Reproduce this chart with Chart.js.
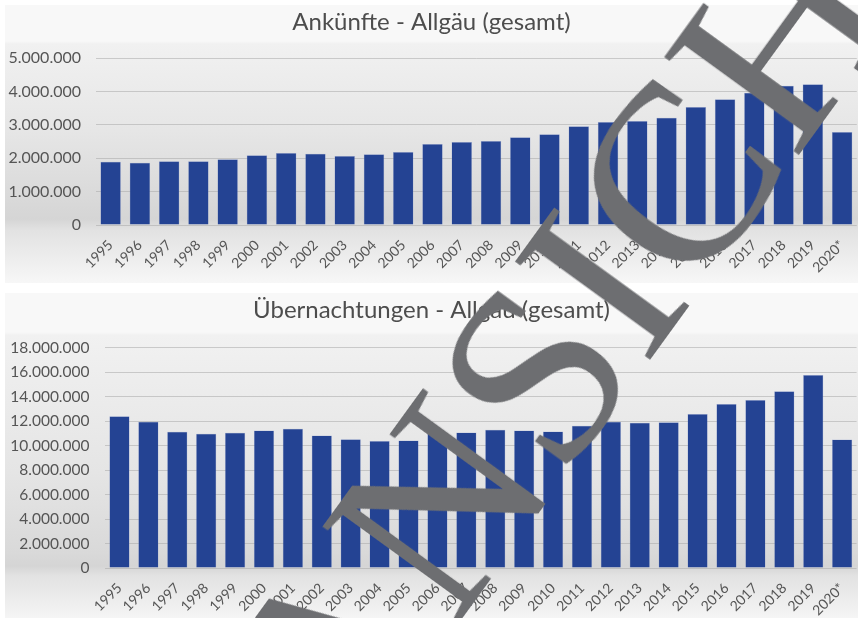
<!DOCTYPE html>
<html>
<head>
<meta charset="utf-8">
<script src="https://cdn.jsdelivr.net/npm/chart.js@4.4.0/dist/chart.umd.min.js"></script>
<style>
  body { margin: 0; background: #fff; width: 858px; height: 618px; overflow: hidden; position: relative; }
  .box { position: absolute; left: 5px; width: 853px; }
  #box1 { top: 5px; height: 278px;
    background: linear-gradient(to bottom, #f8f8f8 0%, #f8f8f8 13%, #f1f1f1 14%, #e6e6e6 45%, #d9d9d9 70%, #d5d5d5 77%, #e2e2e2 81%, #f7f7f7 100%); }
  #box2 { top: 293px; height: 325px;
    background: linear-gradient(to bottom, #f8f8f8 0%, #f8f8f8 12%, #f1f1f1 13%, #e5e5e5 55%, #d9d9d9 80%, #d5d5d5 84%, #e2e2e2 87%, #f5f5f5 100%); }
  #mark { position: absolute; left: 0; top: 0; font-family: "Liberation Serif", serif; font-size: 255px;
    line-height: 1; color: #6d6e71; white-space: nowrap; pointer-events: none; }
</style>
</head>
<body>
<div class="box" id="box1"><canvas id="arrivalsChart"></canvas></div>
<div class="box" id="box2"><canvas id="overnightsChart"></canvas></div>
<div id="mark">ANSICHT</div>
<script>
const years = ['1995', '1996', '1997', '1998', '1999', '2000', '2001', '2002', '2003', '2004', '2005', '2006', '2007',
    '2008', '2009', '2010', '2011', '2012', '2013', '2014', '2015', '2016', '2017', '2018', '2019', '2020*'];
const arrivals = [1900000, 1870000, 1910000, 1910000, 1970000, 2090000, 2160000, 2140000, 2070000, 2120000, 2190000,
    2430000, 2490000, 2520000, 2630000, 2720000, 2960000, 3090000, 3120000, 3220000, 3540000, 3770000, 3970000,
    4180000, 4220000, 2790000];
const overnights = [12410000, 11950000, 11130000, 10970000, 11050000, 11240000, 11380000, 10830000, 10530000,
    10390000, 10420000, 11000000, 11080000, 11300000, 11240000, 11160000, 11620000, 11950000, 11870000, 11920000,
    12580000, 13400000, 13730000, 14440000, 15770000, 10510000];
const arrivalsTicks = { max: 5000000, step: 1000000 };
const overnightsTicks = { max: 18000000, step: 2000000 };

const fmt = v => String(v).replace(/\B(?=(\d{3})+(?!\d))/g, '.');

function barChart(id, title, values, ticks, s) {
    return new Chart(document.getElementById(id), {
        type: 'bar',
        data: {
            labels: years,
            datasets: [{
                label: title,
                data: values,
                backgroundColor: '#244393',
                borderColor: 'rgba(120,140,200,0.6)',
                borderWidth: 0.5,
                barPercentage: 0.7,
                categoryPercentage: 1
            }]
        },
        options: {
            responsive: true,
            maintainAspectRatio: false,
            animation: false,
            layout: { padding: 0 },
            plugins: {
                legend: { display: false },
                tooltip: { enabled: false },
                title: {
                    display: true,
                    text: title,
                    color: '#4d4d4d',
                    font: { family: 'Lato', size: 24, weight: 'normal' },
                    padding: { top: 3, bottom: s.titleGap }
                }
            },
            scales: {
                x: {
                    grid: { display: false },
                    border: { display: false },
                    ticks: {
                        color: '#555',
                        font: { family: 'Lato', size: 14 },
                        minRotation: 45,
                        maxRotation: 45,
                        autoSkip: false,
                        padding: 4
                    },
                    afterFit: sc => { sc.height = s.xHeight; }
                },
                y: {
                    min: 0,
                    max: ticks.max,
                    grid: { color: 'rgba(170,170,170,0.55)', drawTicks: false },
                    border: { display: false },
                    ticks: {
                        stepSize: ticks.step,
                        color: '#555',
                        font: { family: 'Lato', size: s.yFont },
                        padding: s.yPad,
                        callback: v => fmt(v)
                    },
                    afterFit: sc => { sc.width = s.yWidth; }
                }
            }
        }
    });
}

barChart('arrivalsChart', 'Ankünfte - Allgäu (gesamt)', arrivals, arrivalsTicks,
    { titleGap: 21.5, xHeight: 58, yWidth: 91, yFont: 16, yPad: 15 });
barChart('overnightsChart', 'Übernachtungen - Allgäu (gesamt)', overnights, overnightsTicks,
    { titleGap: 23, xHeight: 50, yWidth: 100, yFont: 15.5, yPad: 15.5 });

// watermark, centred on the letter "I"
const mark = document.getElementById('mark');
const w = mark.offsetWidth, h = mark.offsetHeight;
mark.style.left = (600 - w / 2) + 'px';
mark.style.top = (282 - h / 2) + 'px';
mark.style.transform = 'rotate(-54deg)';
</script>
</body>
</html>
